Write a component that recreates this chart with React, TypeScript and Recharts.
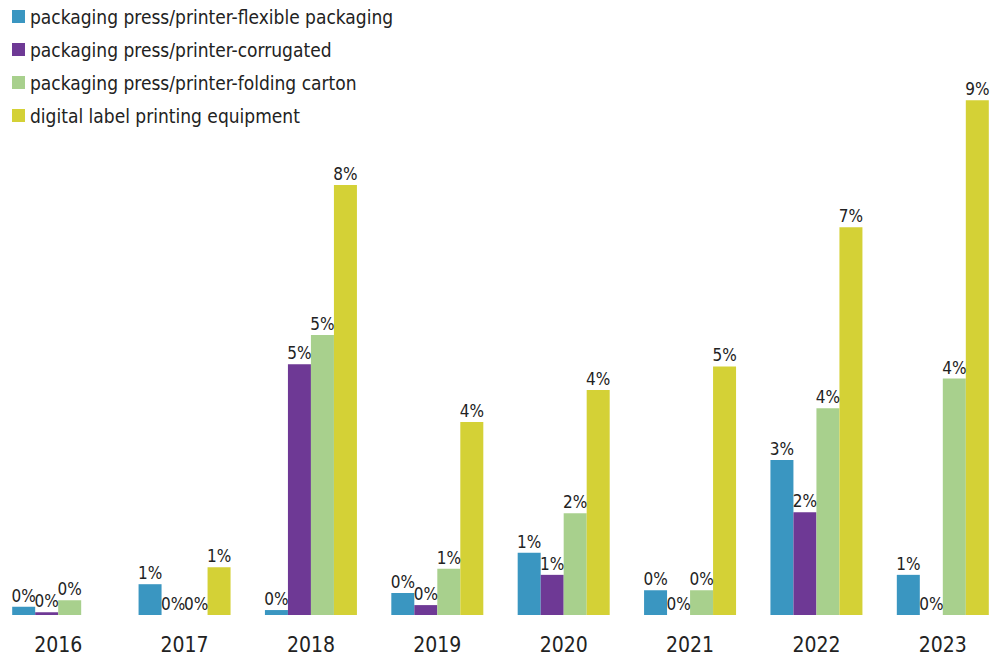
import React from 'react';
import { BarChart, Bar, XAxis, YAxis, LabelList, Legend } from 'recharts';

const years = ['2016', '2017', '2018', '2019', '2020', '2021', '2022', '2023'];

// share of machines (%)
const flexible = [0.15, 0.56, 0.09, 0.4, 1.13, 0.45, 2.82, 0.73];
const corrugated = [0.05, 0, 4.56, 0.18, 0.73, 0, 1.87, 0];
const foldingCarton = [0.27, 0, 5.09, 0.84, 1.85, 0.45, 3.76, 4.3];
const digitalLabel = [null, 0.87, 7.82, 3.51, 4.09, 4.52, 7.05, 9.36];

const SERIES = [
  { key: 'flexible', name: 'packaging press/printer-flexible packaging', color: '#3a96c1', values: flexible },
  { key: 'corrugated', name: 'packaging press/printer-corrugated', color: '#6e3995', values: corrugated },
  { key: 'folding', name: 'packaging press/printer-folding carton', color: '#a8d08d', values: foldingCarton },
  { key: 'digital', name: 'digital label printing equipment', color: '#d4d136', values: digitalLabel },
];

const data = years.map((year, i) => {
  const row: Record<string, any> = { year };
  SERIES.forEach(s => { row[s.key] = s.values[i]; });
  return row;
});

const FONT = '"DejaVu Sans Condensed", "Liberation Sans Narrow", Roboto, sans-serif';

function LegendContent() {
  return (
    <div style={{ fontFamily: FONT, fontSize: 19, color: '#222' }}>
      {SERIES.map(s => (
        <div key={s.key} style={{ display: 'flex', alignItems: 'center', height: 33, whiteSpace: 'nowrap' }}>
          <span style={{ display: 'inline-block', width: 13, height: 13, background: s.color, marginRight: 5 }} />
          {s.name}
        </div>
      ))}
    </div>
  );
}

// keep zero bars in the layout (invisible) so their "0%" label still shows
const zeroMin = (value: any) => (value === 0 ? 0.01 : 0);

export default function App() {
  return (
    <div style={{ position: 'absolute', left: 0, top: 0, width: 994, height: 657, overflow: 'hidden', background: '#fff' }}>
      <BarChart
        width={994}
        height={657}
        data={data}
        margin={{ top: 65, right: -12, bottom: 12, left: -5 }}
        barCategoryGap="13.6%"
        barGap={0}
      >
        <XAxis
          dataKey="year"
          axisLine={false}
          tickLine={false}
          tickMargin={16}
          tick={{ fontSize: 21, fill: '#222', fontFamily: FONT }}
        />
        <YAxis hide domain={[0, 10]} />
        <Legend
          layout="vertical"
          align="center"
          verticalAlign="middle"
          content={<LegendContent />}
          wrapperStyle={{ left: 12, top: 0, width: 'auto' }}
        />
        {SERIES.map(s => (
          <Bar
            key={s.key}
            dataKey={s.key}
            name={s.name}
            fill={s.color}
            minPointSize={zeroMin}
            isAnimationActive={false}
          >
            <LabelList
              dataKey={s.key}
              position="top"
              formatter={(v: any) => `${Number(v).toFixed(0)}%`}
              style={{ fontSize: 17, fill: '#222', fontFamily: FONT }}
            />
          </Bar>
        ))}
      </BarChart>
    </div>
  );
}
